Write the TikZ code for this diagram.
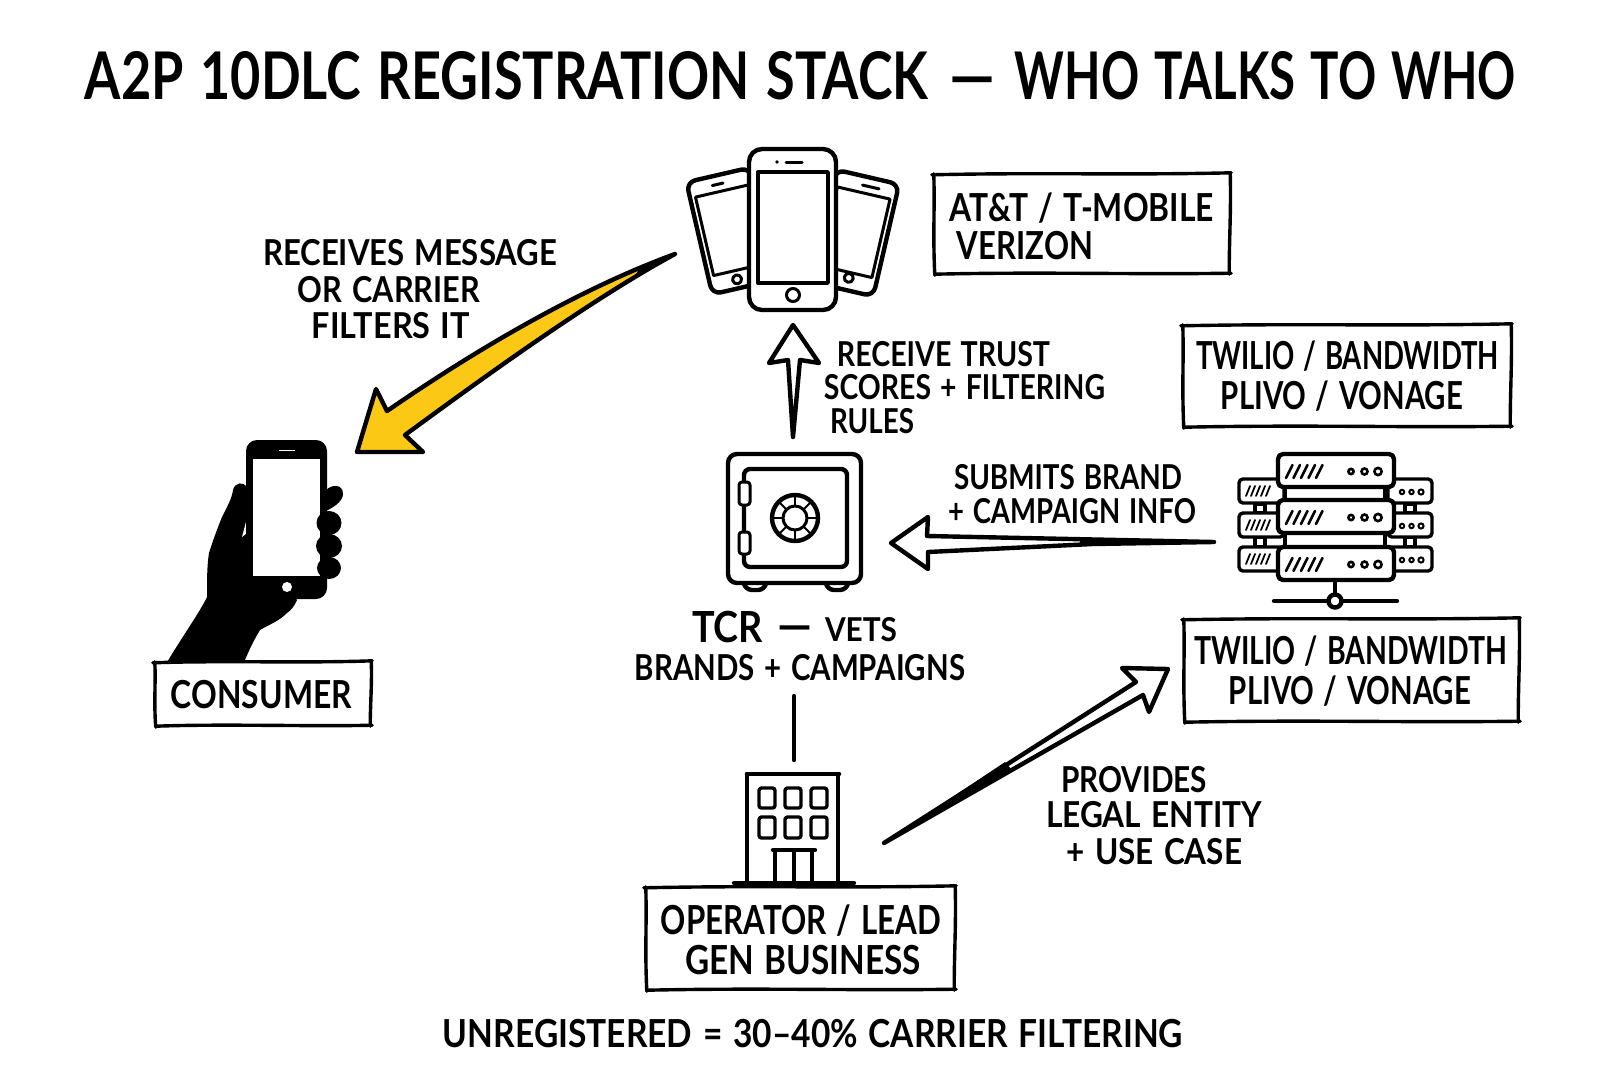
\documentclass[tikz,border=0pt]{standalone}
\usepackage{fontspec}
\usetikzlibrary{calc}
\setmainfont{Lato}
\newcommand{\handfont}{\bfseries}
\definecolor{marker}{HTML}{FBC815}

% One line of lettering: name, left edge, right edge, baseline, capital height, text
\newcommand{\lettering}[6]{%
  \pgfmathsetmacro{\cxpos}{(#2+#3)/2}%
  \pgfmathsetmacro{\wdval}{#3-#2}%
  \node[anchor=base,inner sep=0pt] (#1) at (\cxpos,#4)
    {\resizebox{\wdval pt}{#5 pt}{\raisebox{0pt}[0.7em][0pt]{\handfont\spaceskip=0.32em\relax #6}}};%
}
% Hand-ruled label frame: name, x1, y1, x2, y2
\newcommand{\sketchframe}[5]{%
  \pgfmathsetmacro{\cxpos}{(#2+#4)/2}%
  \pgfmathsetmacro{\cypos}{(#3+#5)/2}%
  \pgfmathsetmacro{\wdval}{#4-#2}%
  \pgfmathsetmacro{\htval}{#5-#3}%
  \node[draw=none,fill=white,inner sep=0pt,minimum width=\wdval pt,minimum height=\htval pt] (#1) at (\cxpos,\cypos) {};%
  \draw[pen] ($(#1.north west)+(-2,1)$) .. controls ($(#1.north)+(-40,-1.5)$) and ($(#1.north)+(40,1.5)$) .. ($(#1.north east)+(1,-1)$);%
  \draw[pen] ($(#1.north east)+(0,-1)$) .. controls ($(#1.east)+(1,-12)$) and ($(#1.east)+(-1,12)$) .. ($(#1.south east)+(-1,1)$);%
  \draw[pen] ($(#1.south east)+(1,0)$) .. controls ($(#1.south)+(50,1.5)$) and ($(#1.south)+(-40,-1.5)$) .. ($(#1.south west)+(1,1)$);%
  \draw[pen] ($(#1.south west)+(1,2)$) .. controls ($(#1.west)+(-1,12)$) and ($(#1.west)+(1,-12)$) .. ($(#1.north west)+(0,0)$);%
}

\tikzset{
  pen/.style={draw=black,line width=3.4pt,line cap=round,line join=round},
  ink/.style={draw=black,line width=4.4pt,line cap=round,line join=round},
  thinink/.style={draw=black,line width=3pt,line cap=round,line join=round},
}

\begin{document}
\begin{tikzpicture}[x=1pt,y=-1pt]
\useasboundingbox (0,0) rectangle (1600,1073);

% ---- Heading and footer ----
\lettering{titlea}{85}{928}{99}{46}{A2P 10DLC REGISTRATION STACK}
\lettering{titledash}{949}{995}{99}{46}{—}
\lettering{titleb}{1015}{1516}{99}{46}{WHO TALKS TO WHO}
\lettering{footer}{443}{1183}{1047}{27}{UNREGISTERED = 30–40\% CARRIER FILTERING}

% ---- Carrier handsets ----
\begin{scope}[shift={(731,231)},rotate=13]
  \draw[ink,fill=white,rounded corners=9pt] (-32.5,-57.5) rectangle (32.5,57.5);
  \draw[thinink] (-27,-41) rectangle (27,39.5);
  \draw[thinink] (-8,-48.5) -- (3,-48.5);
  \draw[thinink] (-5,48.5) circle (4.5);
\end{scope}
\begin{scope}[shift={(854.5,233)},rotate=-13]
  \draw[ink,fill=white,rounded corners=9pt] (-32.5,-57.5) rectangle (32.5,57.5);
  \draw[thinink] (-27,-41) rectangle (27,39.5);
  \draw[thinink] (-3,-48.5) -- (14,-48.5);
  \draw[thinink] (4.5,45) circle (4.5);
\end{scope}
\draw[ink,fill=white,rounded corners=13pt] (749,149) rectangle (836,310);
\draw[ink,line width=3.4pt] (758,172) rectangle (828,283);
\fill (777,162) circle (1.8);
\draw[thinink] (786,162) -- (802,162);
\draw[thinink] (793,295) circle (6.5);
\node[inner sep=0pt,minimum width=190pt,minimum height=165pt] (carriers) at (793,230) {};

% ---- Consumer holding a phone ----
\fill[black] (166,664) .. controls (180,640) and (200,612) .. (207,597)
  .. controls (207,580) and (207,565) .. (209,553)
  .. controls (213,540) and (218,527) .. (222,517)
  .. controls (228,505) and (232,498) .. (233,490)
  .. controls (235,482) and (244,481) .. (247,488)
  -- (260,560) -- (297,600)
  .. controls (294,607) and (291,610) .. (287,613)
  .. controls (278,622) and (268,625) .. (260,630)
  .. controls (254,640) and (250,648) .. (245,660) -- cycle;
\fill[white] (242,537) -- (247,518) -- (247,533) -- cycle;
\fill[black,rounded corners=11pt] (246,440) rectangle (327,599);
\fill[white] (253,459) rectangle (320,576);
\draw[white,line width=1.6pt] (279,450.5) -- (295,450.5);
\fill[white] (287,587) circle (5);
\fill[black] (326,490) .. controls (332,484) and (343,484) .. (343,494)
  .. controls (343,502) and (332,508) .. (326,511) -- cycle;
\fill[black] (329,523) ellipse (12.5 and 12);
\fill[black] (329,546) ellipse (13 and 12);
\fill[black] (329,568) ellipse (12 and 11);
\sketchframe{consumerbox}{155}{662}{371}{725}
\lettering{consumer}{171}{352}{708}{27}{CONSUMER}

% ---- The Campaign Registry safe ----
\node[inner sep=0pt,minimum width=135pt,minimum height=140pt] (safe) at (794,518) {};
\draw[ink,rounded corners=7pt] (744,584) -- (745,590) -- (765,590) -- (766,584);
\draw[ink,rounded corners=7pt] (826,584) -- (827,590) -- (847,590) -- (848,584);
\draw[ink,fill=white,rounded corners=9pt] (728,454) rectangle (861,583);
\draw[ink,rounded corners=6pt] (744,469) rectangle (847,567);
\draw[thinink,fill=white,rounded corners=3pt] (739,482) rectangle (750,505);
\draw[thinink,fill=white,rounded corners=3pt] (739,532) rectangle (750,554);
\draw[ink] (795,518) circle (23);
\draw[thinink] (795,518) circle (12);
\foreach \a in {0,45,...,315}
  \draw[line width=2pt] ($(795,518)+(\a:12)$) -- ($(795,518)+(\a:23)$);

% ---- Messaging provider server rack ----
\node[inner sep=0pt,minimum width=196pt,minimum height=160pt] (rack) at (1335,525) {};
\draw[ink,fill=white] (1255,504) rectangle (1265,513);
\draw[ink,fill=white] (1255,537) rectangle (1265,547);
\draw[ink,fill=white] (1405,504) rectangle (1415,513);
\draw[ink,fill=white] (1405,537) rectangle (1415,547);
\foreach \uy in {479,513,547} {
  \draw[ink,line width=3.4pt,fill=white,rounded corners=4pt] (1239,\uy) rectangle (1284,\uy+24);
  \draw[ink,line width=3.4pt,fill=white,rounded corners=4pt] (1388,\uy) rectangle (1432,\uy+24);
  \foreach \k in {0,...,4}
    \draw[line width=1.8pt,line cap=round] (1246+\k*5,\uy+17) -- ++(4,-10);
  \foreach \k/\r in {0/2.2,1/2.2,2/2.6}
    \draw[line width=2pt] (1402+\k*9.5,\uy+13) circle (\r);
}
\draw[ink,fill=white] (1285,487) rectangle (1385,500);
\draw[ink,fill=white] (1285,533) rectangle (1385,547);
\foreach \uy in {454,500,547} {
  \draw[ink,fill=white,rounded corners=5pt] (1278,\uy) rectangle (1394,\uy+33);
  \foreach \k in {0,...,4}
    \draw[line width=2.6pt,line cap=round] (1286+\k*7.5,\uy+24) -- ++(6.5,-13);
  \foreach \k/\r in {0/2.6,1/3,2/3.6}
    \draw[line width=2.6pt] (1351+\k*13.5,\uy+17.5) circle (\r);
}
\draw[ink] (1335,580) -- (1335,595);
\draw[ink] (1274,601) -- (1397,601);
\draw[ink,fill=white] (1335,601) circle (6.5);

% ---- Operator building ----
\node[inner sep=0pt,minimum width=122pt,minimum height=110pt] (building) at (794,829) {};
\draw[ink] (747,882) -- (747,774);
\draw[ink] (838,882) -- (838,774);
\draw[ink,line width=4.6pt] (747,774) -- (839,774);
\foreach \wx in {759,785,811} \foreach \wy/\wh in {788/20,817/21}
  \draw[ink,line width=3.4pt,rounded corners=2.5pt] (\wx,\wy) rectangle (\wx+16,\wy+\wh);
\draw[ink,line width=3.4pt] (775,882) -- (775,850);
\draw[ink,line width=3.4pt] (794,882) -- (794,850);
\draw[ink,line width=3.4pt] (812,882) -- (812,850);
\draw[ink] (773,850) -- (815,850);
\draw[ink] (734,883) -- (854,883);

% ---- Named arrow ends ----
\coordinate (yellowtail) at (675,254);
\coordinate (yellowtip) at (357,452);
\coordinate (uptail) at (793,437);
\coordinate (uptip) at (793,325);
\coordinate (lefttail) at (1214,542);
\coordinate (lefttip) at (891,543);
\coordinate (risetail) at (884,843);
\coordinate (risetip) at (1168,669);
\coordinate (registrytop) at (794,696);
\coordinate (buildingtop) at (794,760);

% Yellow delivery arrow from the carriers down to the consumer
\filldraw[ink,fill=marker] (yellowtail)
  .. controls (590,285) and (490,340) .. (387,411)
  -- (376,389) -- (yellowtip) -- (423,452) -- (405,435)
  .. controls (480,380) and (590,300) .. (yellowtail) -- cycle;
\fill[black] (yellowtail) -- (640,266) -- (636,275) -- cycle;

% Carriers receive trust scores from the registry
\draw[ink] (uptail) -- (788,360) -- (769,363) -- (uptip) -- (819,363) -- (800,360) -- cycle;

% Provider submits to the registry
\draw[ink] (lefttail) -- (927,536) -- (928,517) -- (lefttip) -- (928,569) -- (928,552) -- (1093,544) -- cycle;
\fill[black] (lefttail) -- (1080,538) -- (1080,546) -- cycle;

% Operator provides details to the provider
\draw[ink] (risetail) -- (1136,682) -- (1122,668) -- (risetip) -- (1149,712) -- (1143,695) -- cycle;
\fill[black] (risetail) -- (1005,762) -- (1012,770) -- cycle;

% Registry joined to the operator
\draw[ink] (registrytop) -- (buildingtop);

% ---- Label frames ----
\sketchframe{carrierbox}{934}{174}{1230}{273}
\sketchframe{providerboxa}{1183}{325}{1511}{426}
\sketchframe{providerboxb}{1184}{619}{1519}{721}
\sketchframe{operatorbox}{646}{887}{955}{989}

% ---- Lettering ----
\lettering{recva}{263}{557}{265}{25}{RECEIVES MESSAGE}
\lettering{recvb}{298}{480}{302}{25}{OR CARRIER}
\lettering{recvc}{312}{470}{338}{25}{FILTERS IT}
\lettering{carriera}{950}{1214}{221}{27}{AT\&T / T-MOBILE}
\lettering{carrierb}{957}{1093}{259}{27}{VERIZON}
\lettering{trusta}{837}{1050}{366}{24}{RECEIVE TRUST}
\lettering{trustb}{824}{1105}{399}{24}{SCORES + FILTERING}
\lettering{trustc}{830}{914}{433}{24}{RULES}
\lettering{provaa}{1196}{1499}{369}{27}{TWILIO / BANDWIDTH}
\lettering{provab}{1221}{1463}{409}{27}{PLIVO / VONAGE}
\lettering{submita}{954}{1182}{489}{24}{SUBMITS BRAND}
\lettering{submitb}{948}{1196}{523}{24}{+ CAMPAIGN INFO}
\lettering{tcr}{692}{763}{642}{30}{TCR}
\lettering{tcrdash}{777}{812}{642}{34}{—}
\lettering{vets}{825}{897}{641}{23}{VETS}
\lettering{brands}{635}{965}{680}{25}{BRANDS + CAMPAIGNS}
\lettering{provba}{1194}{1507}{664}{27}{TWILIO / BANDWIDTH}
\lettering{provbb}{1229}{1471}{704}{27}{PLIVO / VONAGE}
\lettering{legala}{1061}{1207}{792}{25}{PROVIDES}
\lettering{legalb}{1046}{1262}{827}{25}{LEGAL ENTITY}
\lettering{legalc}{1067}{1242}{864}{25}{+ USE CASE}
\lettering{operatora}{661}{941}{934}{28}{OPERATOR / LEAD}
\lettering{operatorb}{685}{921}{974}{28}{GEN BUSINESS}
\end{tikzpicture}
\end{document}
